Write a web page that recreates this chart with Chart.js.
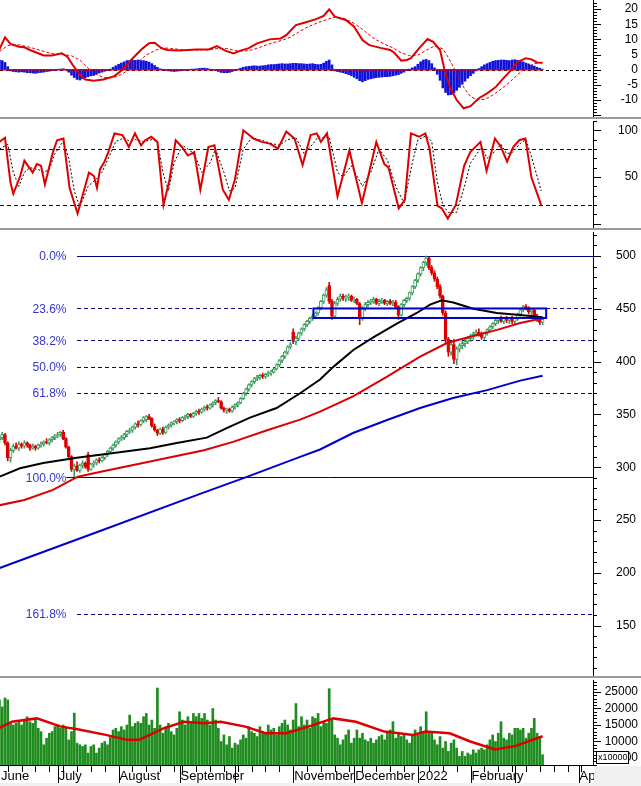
<!DOCTYPE html>
<html>
<head>
<meta charset="utf-8">
<script src="https://cdn.jsdelivr.net/npm/chart.js@4.4.1/dist/chart.umd.min.js"></script>
<style>
  html, body { margin: 0; padding: 0; background: #fff; }
  #wrap { position: relative; width: 641px; height: 786px; overflow: hidden; }
  canvas { position: absolute; left: 0; }
  .sep { position: absolute; left: 0; width: 641px; height: 4px; background: #fff;
         border-top: 2px solid #9a9a9a; box-sizing: border-box; }
</style>
</head>
<body>
<div id="wrap">
  <canvas id="macd" width="641" height="117" style="top:0"></canvas>
  <div class="sep" style="top:117px"></div>
  <canvas id="stoch" width="641" height="107" style="top:121px"></canvas>
  <div class="sep" style="top:228px"></div>
  <canvas id="price" width="641" height="444" style="top:232px"></canvas>
  <div class="sep" style="top:676px"></div>
  <canvas id="volume" width="641" height="106" style="top:680px"></canvas>
</div>
<script>
// ---- data (x = trading-day index, 0 = 1 July 2021) ----
const FIRST_DAY = -21;
const X_MIN = -20.8, X_MAX = 193.2;

const monthStarts = [-22, 0, 22, 44, 64, 85, 107, 130, 149, 165, 188];
const monthNames = ['June', 'July', 'August', 'September', '', 'November', 'December', '2022', 'February', '', 'April'];
const weekStarts = [-18, -13, -8, -3, 2, 7, 12, 17, 27, 32, 37, 42, 45, 50, 55, 60, 65, 70, 75, 80,
  90, 95, 100, 105, 110, 115, 120, 125, 134, 139, 144, 154, 159, 164, 169, 174, 179, 184, 189];

// daily candles [open, high, low, close]
const candles = [
  [326,331,323,328],[328,333,326,331],[331,332,321,323],[323,324,306,309],[309,318,305,316],[316,322,314,320],[320,323,317,318],[318,324,316,322],[322,323,318,320],[320,325,318,323],
  [323,324,319,321],[321,322,316,318],[318,322,317,320],[320,321,316,318],[318,322,317,321],[321,324,319,322],[322,325,320,324],[324,327,322,323],[323,327,321,326],[326,329,324,328],
  [328,331,326,330],[330,333,328,331],[331,334,329,333],[333,335,326,327],[327,328,318,319],[319,320,308,310],[310,311,296,298],[298,303,291,301],[301,305,296,297],[297,303,295,302],
  [302,306,299,304],[304,305,299,300],[312,314,296,298],[298,304,297,303],[303,306,300,304],[304,308,302,307],[307,309,304,306],[306,310,305,309],[309,313,307,312],[312,316,310,315],
  [315,319,313,318],[318,322,316,321],[321,325,319,324],[324,328,322,327],[327,330,325,328],[328,332,326,331],[331,335,329,334],[334,337,332,335],[335,339,333,338],[338,342,336,341],
  [341,344,338,340],[340,345,339,344],[344,348,342,347],[345,349,343,348],[348,350,345,346],[346,347,338,339],[339,341,334,335],[335,336,330,332],[332,337,331,336],[336,338,331,333],
  [333,339,332,338],[338,341,336,340],[340,343,338,342],[342,344,340,343],[343,346,341,345],[345,347,342,344],[344,348,343,347],[347,349,345,348],[348,351,346,350],[350,351,347,348],
  [348,352,347,351],[351,354,349,353],[353,355,350,352],[352,356,351,355],[355,358,353,357],[357,359,354,356],[356,360,355,359],[359,362,357,361],[361,364,359,363],[363,366,361,362],
  [362,363,355,356],[356,357,352,354],[354,356,351,355],[355,356,352,353],[353,358,352,357],[357,360,355,359],[359,362,357,361],[361,366,360,365],[365,371,364,370],[370,375,368,374],
  [374,379,372,378],[378,382,376,381],[381,385,379,384],[384,387,382,385],[385,388,383,387],[387,389,384,386],[386,389,384,388],[388,391,386,389],[389,392,387,390],[390,394,389,393],
  [393,398,392,397],[397,402,395,401],[401,406,399,405],[405,410,403,409],[409,415,407,414],[414,418,412,416],[428,431,417,419],[419,424,416,422],[422,428,420,427],[427,432,425,431],
  [431,436,429,435],[435,439,433,438],[438,442,436,441],[441,445,439,443],[443,447,441,446],[446,452,444,451],[451,458,449,457],[457,464,455,463],[463,470,461,468],[472,475,455,457],
  [457,459,440,443],[443,457,442,455],[455,461,453,459],[459,464,457,462],[462,464,458,460],[460,463,457,461],[461,464,458,462],[462,463,457,458],[458,461,456,459],[459,460,454,455],
  [455,456,435,441],[441,452,439,450],[450,456,448,454],[454,458,452,456],[456,459,454,457],[457,461,455,459],[459,460,454,455],[455,459,453,457],[457,460,455,458],[458,459,454,455],
  [455,458,453,457],[457,459,454,455],[455,458,453,456],[456,458,450,452],[452,453,440,444],[444,455,443,454],[454,459,452,458],[458,461,456,460],[460,466,458,465],[465,472,463,471],
  [471,478,469,477],[477,484,475,483],[483,490,481,489],[489,495,486,494],[494,500,491,498],[498,499,487,489],[489,491,482,484],[484,486,476,478],[478,480,469,471],[471,473,460,462],
  [462,463,444,446],[446,448,418,421],[421,423,405,409],[409,418,406,416],[416,421,398,402],[402,414,397,412],[412,417,409,415],[415,419,412,417],[417,421,414,419],[419,424,417,422],
  [422,426,419,424],[424,428,421,426],[426,430,424,428],[428,431,424,425],[425,428,421,423],[423,428,421,427],[427,431,425,430],[430,434,428,433],[433,437,431,436],[436,440,434,439],
  [439,442,436,441],[441,443,437,438],[438,442,436,441],[441,443,437,439],[439,442,436,441],[441,443,436,438],[438,442,436,441],[441,446,439,445],[445,450,443,449],[449,453,447,452],
  [452,454,449,451],[451,452,445,447],[447,450,444,449],[449,450,441,443],[443,445,438,440],[440,442,435,437],[437,441,435,440]
];

// moving averages on price [day, value]
const maBlack = [[-21,291],[-13.6,299],[-5.2,304],[6.9,309],[18.9,313],[33.3,318],[43,323],[53.8,328],[61,337],[69.4,347],[79,356],[87.5,370],[94.7,383],
  [99.5,395],[106.7,411],[113.9,423],[122.4,436],[129.6,446],[134.4,454],[138.6,458],[142.8,456],[150,450],[158.5,446],[166.9,444],[175,442]];
const maRed = [[-21,264],[-12,269],[-1.7,278.5],[7.3,291],[16,296],[30.8,304],[52.8,316],[63.3,324],[75.6,335],[87.5,345],[94.7,352.6],
  [106.6,367],[118.9,385.7],[130.8,404.6],[140.5,417.6],[148.9,423.6],[158.6,430],[166.9,436.5],[175,441]];
const maBlue = [[-21,204.5],[15.3,239.6],[51.4,274.7],[68.3,290.8],[87.5,309.8],[94.7,316.8],[106.6,332.4],[118.9,344.7],
  [130.8,356],[142.7,365.5],[155,373],[166.9,382],[175,386.6]];

// Fibonacci retracement
const fibHigh = 500, fibLow = 290.5;
const fibLevels = [0, 23.6, 38.2, 50, 61.8, 100, 161.8];
const fibStart = [7, 7, 7, 7, 7, 3.1, 7];
const fibLabelAt = 3.2;
const zoneBox = { from: 92.3, to: 176.3, low: 441.3, high: 450.3 };

// volume
const volume = [
  22600,20500,23200,22600,15500,15000,15500,16000,15000,16500,
  17500,16000,15500,17000,14000,13000,9000,11000,12500,13000,
  14500,15000,14000,15000,14500,10500,13000,18600,9500,9000,
  8500,9000,6500,8500,9000,6500,8000,9500,10000,9000,
  11500,13500,14000,13000,14500,13500,15000,18000,14500,15500,
  16000,15500,17500,18500,15000,16500,14000,26200,15000,12500,
  14500,15500,13000,12000,14000,19000,16500,15000,17500,16000,
  18500,17500,18500,17000,18500,16500,15000,20000,16500,14000,
  10000,12000,9000,11500,8000,9500,9000,10500,12000,11000,
  14500,13000,12500,11500,14500,13000,12500,15000,13500,14000,
  12000,14500,15500,16500,15000,13500,16500,21500,14500,17500,
  15000,16500,14000,17500,17000,18500,14500,16000,15500,26000,
  17000,12000,11000,9000,10500,12000,13500,9500,11000,13500,
  11000,12500,10500,10000,11000,9500,10500,11500,12000,10500,
  12500,13500,16000,11000,12500,11500,12000,10500,9500,12000,
  13500,12000,14500,13000,19000,12500,13000,10500,9000,11500,
  8000,10000,7000,9500,10500,8000,5500,7000,5500,6500,
  6000,7500,6500,7500,8000,7500,9000,10500,12000,10000,
  12500,16000,11000,10500,12500,12000,14000,14000,13500,14000,
  11000,12500,14000,17000,12500,11000,6000
];
const volumeMa = [[-21,14100],[-16.5,16000],[-7.5,17000],[1.2,14500],[7.2,13700],[17.4,12000],[25,10500],[29.4,10500],[38.2,14000],
  [45.6,16000],[53,15500],[58.9,16000],[67.7,14500],[75.1,12500],[82.5,12500],[90.5,14500],[99.5,17000],[107.6,16000],[117.9,13000],
  [128.3,12000],[132.7,13000],[141.5,12500],[148.9,10000],[157.8,7600],[165.1,8600],[175,11600]];

// MACD
const macdHist = [
  3.2,3.0,2.4,1.0,-0.4,-0.6,-0.7,-0.8,-0.7,-0.8,
  -1.0,-1.0,-1.1,-1.2,-1.0,-0.9,-0.8,-0.6,-0.5,-0.3,
  -0.2,0.1,0.2,0.3,0.1,-0.8,-1.8,-2.6,-3.2,-3.4,
  -3.0,-2.6,-2.3,-2.0,-1.9,-1.5,-1.1,-0.8,-0.5,-0.3,
  0.2,0.8,1.3,1.8,2.2,2.6,3.0,3.1,3.2,3.1,
  3.2,3.0,3.0,2.8,2.5,2.0,1.4,0.8,0.3,0.1,
  -0.2,-0.4,-0.5,-0.6,-0.5,-0.4,-0.3,-0.2,0.0,0.1,
  0.2,0.3,0.4,0.5,0.5,0.4,0.2,0.0,-0.3,-0.6,
  -0.9,-1.0,-1.0,-0.9,-0.6,-0.3,0.2,0.5,0.8,1.0,
  1.1,1.2,1.3,1.2,1.2,1.3,1.4,1.6,1.7,1.7,
  1.8,1.9,2.0,1.9,1.9,2.0,2.1,2.1,2.0,2.0,
  1.9,1.8,1.9,2.0,1.8,1.7,1.8,2.2,2.8,3.2,
  1.6,-0.4,-0.6,-0.8,-1.0,-1.3,-1.6,-2.0,-2.5,-3.0,
  -3.6,-4.0,-3.6,-3.2,-3.0,-2.8,-2.6,-2.5,-2.4,-2.3,
  -2.3,-2.2,-2.0,-1.8,-1.6,-1.2,-0.8,-0.3,0.2,0.6,
  1.0,1.8,2.6,3.2,3.4,3.0,2.0,0.6,-1.5,-3.5,
  -6.0,-7.5,-8.3,-8.2,-7.6,-6.8,-5.8,-4.8,-3.8,-2.8,
  -2.0,-1.2,-0.4,0.4,1.0,1.6,2.0,2.4,2.8,3.0,
  3.1,3.2,3.2,3.1,3.0,3.2,3.3,3.1,2.8,2.6,
  2.2,1.9,1.5,1.2,0.8,0.5,0.2
];
const macdLine = [[-21,6.7],[-19,10.7],[-17,8.5],[-14,7.6],[-12,7.4],[-10,6.5],[-7.5,5.6],[-5,4.7],[-2,4.7],[1.5,5.4],[3.5,4.3],
  [5.5,1.5],[8,-1.7],[10,-3.2],[13,-3.6],[16.5,-3.2],[20.5,-2.1],[23.5,0.1],[26.5,3.2],[30,6.5],[33,8.7],[35,8.9],[37.5,7.1],
  [39.5,6.5],[44,6.3],[50,6.7],[54.5,6.7],[57.5,7.8],[60.5,6.3],[63.5,5.4],[66,6.3],[69,7.1],[72,8.7],[76.5,10.0],[80.5,10.3],
  [82.5,11.4],[86,14.7],[89,15.5],[93,16.6],[96,17.7],[98,19.9],[100,17.5],[104,16.4],[107,14.2],[110,9.8],[112.5,8.1],
  [116.5,7.2],[120,6.5],[121.5,5.6],[124,3.0],[126,3.2],[127.5,3.8],[130.5,7.1],[133.5,10.1],[135.5,9.2],[138,6.5],[139.5,0.5],
  [141.5,-5.6],[144,-10],[146.5,-12.7],[149,-12],[152,-9.4],[155,-7.8],[158,-5.8],[160.5,-3.2],[163.5,-0.3],[166,2.6],
  [169,3.8],[171,3.4],[173,2.4],[175,2.3]];
const macdSignal = [[-21,6.0],[-18,8.0],[-14,8.2],[-10,7.4],[-6,6.3],[-2,5.3],[2,5.0],[5,4.6],[8,3.2],[11,0.5],[14,-1.6],[17,-2.6],
  [20,-2.6],[23,-1.6],[26,0.2],[29,2.6],[32,4.8],[35,6.3],[38,7.2],[41,7.0],[45,6.6],[50,6.5],[55,6.6],[58,7.0],[61,7.0],[64,6.3],
  [67,6.1],[70,6.5],[73,7.4],[77,8.7],[81,9.7],[84,10.7],[87,12.4],[90,14.0],[94,15.5],[97,16.5],[100,17.3],[103,17.0],[106,15.8],
  [109,14.0],[112,11.8],[115,9.8],[118,8.4],[121,7.2],[124,5.6],[127,4.6],[130,4.8],[133,6.4],[136,7.8],[139,6.9],[141,4.0],
  [143,0.6],[145,-3.2],[147,-6.5],[149,-8.8],[151,-9.8],[154,-9.8],[157,-8.4],[160,-6.4],[163,-4.2],[166,-1.6],[169,0.6],
  [172,2.0],[175,2.4]];

// stochastic
const stochK = [[-21,87.6],[-19,92],[-17,43.8],[-16,32],[-13.5,51],[-12,67.5],[-9,54.7],[-7.5,63.8],[-6,62],[-4.6,42],[-1.7,76.6],
  [-0.2,89.4],[2.1,91.2],[4.3,38.3],[7.2,10.9],[11.3,54.7],[13.1,51],[14.2,38.3],[15.3,58.4],[16.8,65.7],[18.3,76.6],[20.5,96.7],
  [23.4,94.9],[25.7,82.1],[27.9,96.7],[30.1,83.9],[31.6,89.4],[33.8,93.1],[36,87.6],[38.2,20],[40.4,47.4],[42.6,89.4],[44.9,82.1],
  [47,73],[49.3,76.6],[51.5,36.4],[54.4,82.1],[56.6,83.9],[59.6,36.4],[61.8,25.5],[64,47.4],[67,100],[70.7,91.2],[73.6,87.6],
  [76.6,85.8],[79.5,80.3],[82.5,98.6],[85.5,91.2],[88.4,62.7],[91.3,94.9],[93.5,96.7],[95,87.6],[97.2,96.7],[101,29.1],[105.3,78.4],
  [109.8,21.9],[115,87.6],[117.9,63.8],[119.4,60.2],[123.1,16.4],[125.3,25.5],[127.5,96.7],[130.4,93.1],[132.7,96.7],[134.2,80.3],
  [137.1,18.9],[138.6,16.4],[140.8,5.4],[143.7,20],[146.7,62],[148.9,76.6],[152.6,87.6],[154.8,56.5],[157.8,91.2],[160,82.1],
  [162.2,66.4],[164.4,82.1],[166.6,89.4],[168.8,91.2],[171,49.3],[174.5,20]];
const stochD = [[-21,80],[-18,85],[-16,55],[-14,40],[-12,55],[-10,60],[-7,58],[-5,55],[-3,58],[-1,75],[2,88],[4,70],[6,35],[8,18],
  [11,40],[14,48],[16,55],[18,68],[21,88],[24,92],[26,88],[28,90],[31,88],[34,90],[36,88],[38,55],[40,35],[42,65],[45,84],[48,78],
  [50,70],[52,55],[55,65],[57,80],[60,55],[62,35],[64,38],[67,80],[70,92],[74,89],[77,86],[80,84],[83,90],[86,92],[89,75],[92,85],
  [94,93],[96,92],[98,93],[101,55],[103,50],[106,62],[110,40],[113,55],[116,80],[119,68],[122,40],[125,22],[128,65],[130,90],
  [133,94],[135,88],[137,45],[139,20],[141,12],[144,12],[147,42],[149,65],[153,82],[155,70],[158,78],[160,85],[162,75],[164,76],
  [167,86],[169,90],[171,72],[174.5,35]];
const stochLevels = [80, 20];

// axis tick labels
const macdTicks = [20, 15, 10, 5, 0, -5, -10];
const stochTicks = [100, 50];
const priceTicks = [500, 450, 400, 350, 300, 250, 200, 150];
const volumeTicks = [25000, 20000, 15000, 10000, 5000];

// ---- helpers ----
const RED = '#dd0000';
const FONT = { family: 'Liberation Sans, Arial, sans-serif', size: 12 };
const pts = arr => arr.map(p => ({ x: p[0], y: p[1] }));
const daily = arr => arr.map((v, k) => ({ x: FIRST_DAY + k, y: v }));
const lastDay = FIRST_DAY + candles.length - 1;

function xAxis() {
  return { type: 'linear', min: X_MIN, max: X_MAX, offset: false, display: false };
}
// right axis: 48px from the plot edge; labels end `gap` px before the canvas edge
function yAxis(min, max, ticks, gap) {
  return {
    type: 'linear', position: 'right', min: min, max: max,
    afterBuildTicks: s => { s.ticks = ticks.map(v => ({ value: v })); },
    afterFit: s => { s.width = 48 - gap; s.paddingTop = 0; s.paddingBottom = 0; },
    grid: { drawOnChartArea: false, drawTicks: false },
    border: { display: true, color: '#000', width: 1 },
    ticks: { color: '#000', font: FONT, padding: 10, crossAlign: 'far', autoSkip: false,
      callback: v => String(v) }
  };
}

// minor / major tick marks on the right axis
const axisMarks = {
  id: 'axisMarks',
  afterDraw(chart, args, opts) {
    const y = chart.scales.y, ctx = chart.ctx;
    ctx.save();
    ctx.strokeStyle = '#000';
    ctx.lineWidth = 1;
    const start = Math.ceil(y.min / opts.minor) * opts.minor;
    for (let v = start; v <= y.max; v += opts.minor) {
      const py = Math.round(y.getPixelForValue(v)) + 0.5;
      const r = v / opts.major;
      const major = Math.abs(r - Math.round(r)) < 1e-6;
      ctx.beginPath();
      ctx.moveTo(y.left, py);
      ctx.lineTo(y.left + (major ? 8 : 4), py);
      ctx.stroke();
    }
    ctx.restore();
  }
};

function hLine(chart, value, x0, color, dash, width) {
  const { ctx, scales: { y } } = chart;
  const py = Math.round(y.getPixelForValue(value)) + 0.5;
  ctx.save();
  ctx.strokeStyle = color;
  ctx.lineWidth = width || 1;
  ctx.setLineDash(dash || []);
  ctx.beginPath();
  ctx.moveTo(x0, py);
  ctx.lineTo(chart.chartArea.right, py);
  ctx.stroke();
  ctx.restore();
}

function baseOptions(gap) {
  return {
    responsive: false,
    animation: false,
    events: [],
    layout: { padding: { left: 0, top: 0, bottom: 0, right: gap } }
  };
}

// ---- MACD ----
new Chart(document.getElementById('macd'), {
  type: 'bar',
  data: {
    datasets: [
      { type: 'line', data: pts(macdLine), borderColor: RED, borderWidth: 2, pointRadius: 0, order: 0 },
      { type: 'line', data: pts(macdSignal), borderColor: RED, borderWidth: 1, borderDash: [3, 2], pointRadius: 0, order: 1 },
      { type: 'line', data: [{ x: FIRST_DAY, y: 0 }, { x: lastDay, y: 0 }], borderColor: RED, borderWidth: 1.5, pointRadius: 0, order: 2 },
      { data: daily(macdHist), backgroundColor: '#1010dd', barThickness: 2, order: 3 }
    ]
  },
  options: Object.assign(baseOptions(3), {
    scales: { x: xAxis(), y: yAxis(-15.58, 22.97, macdTicks, 3) },
    plugins: { legend: { display: false }, tooltip: { enabled: false }, axisMarks: { minor: 1, major: 5 } }
  }),
  plugins: [axisMarks, {
    id: 'zero',
    beforeDatasetsDraw(chart) { hLine(chart, 0, chart.chartArea.left, '#000', [3, 3]); }
  }]
});

// ---- Stochastic ----
new Chart(document.getElementById('stoch'), {
  type: 'line',
  data: {
    datasets: [
      { data: pts(stochK), borderColor: RED, borderWidth: 2, pointRadius: 0, order: 0 },
      { data: pts(stochD), borderColor: '#000', borderWidth: 1, borderDash: [2, 2], pointRadius: 0, order: 1 }
    ]
  },
  options: Object.assign(baseOptions(3), {
    scales: { x: xAxis(), y: yAxis(-4.7, 110, stochTicks, 3) },
    plugins: { legend: { display: false }, tooltip: { enabled: false }, axisMarks: { minor: 10, major: 50 } }
  }),
  plugins: [axisMarks, {
    id: 'levels',
    beforeDatasetsDraw(chart) {
      stochLevels.forEach(v => hLine(chart, v, chart.chartArea.left, '#000080', [4, 3]));
    }
  }]
});

// ---- Price ----
const upCandle = candles.map(c => c[3] >= c[0]);
const GREEN = '#3a9a5c';
new Chart(document.getElementById('price'), {
  type: 'bar',
  data: {
    datasets: [
      { type: 'line', data: pts(maBlue), borderColor: '#0000cc', borderWidth: 2, pointRadius: 0, order: 0 },
      { type: 'line', data: pts(maRed), borderColor: RED, borderWidth: 2, pointRadius: 0, order: 0 },
      { type: 'line', data: pts(maBlack), borderColor: '#000', borderWidth: 2, pointRadius: 0, order: 0 },
      { data: candles.map((c, k) => ({ x: FIRST_DAY + k, y: [c[0], c[3]] })), barThickness: 3, borderWidth: 1,
        borderSkipped: false, grouped: false, order: 1,
        backgroundColor: ctx => upCandle[ctx.dataIndex] ? '#fff' : RED,
        borderColor: ctx => upCandle[ctx.dataIndex] ? GREEN : RED },
      { data: candles.map((c, k) => ({ x: FIRST_DAY + k, y: [c[2], c[1]] })), barThickness: 1, grouped: false, order: 2,
        backgroundColor: ctx => upCandle[ctx.dataIndex] ? GREEN : RED }
    ]
  },
  options: Object.assign(baseOptions(5), {
    scales: { x: xAxis(), y: yAxis(102.3, 522.7, priceTicks, 5) },
    plugins: { legend: { display: false }, tooltip: { enabled: false }, axisMarks: { minor: 10, major: 50 } }
  }),
  plugins: [axisMarks, {
    id: 'fib',
    beforeDatasetsDraw(chart) {
      const { ctx, scales: { x, y } } = chart;
      fibLevels.forEach((pct, k) => {
        const price = fibHigh - (fibHigh - fibLow) * pct / 100;
        const solid = pct === 0 || pct === 100;
        hLine(chart, price, x.getPixelForValue(fibStart[k]), '#000080', solid ? [] : [4, 3]);
        ctx.save();
        ctx.font = '12px Liberation Sans, Arial, sans-serif';
        ctx.fillStyle = '#3535cc';
        ctx.textAlign = 'right';
        ctx.textBaseline = 'middle';
        ctx.fillText(pct.toFixed(1) + '%', x.getPixelForValue(fibLabelAt), y.getPixelForValue(price) + 1);
        ctx.restore();
      });
    },
    afterDatasetsDraw(chart) {
      const { ctx, scales: { x, y } } = chart;
      const x0 = x.getPixelForValue(zoneBox.from), x1 = x.getPixelForValue(zoneBox.to);
      const y0 = y.getPixelForValue(zoneBox.high), y1 = y.getPixelForValue(zoneBox.low);
      ctx.save();
      ctx.strokeStyle = '#0000cc';
      ctx.lineWidth = 2;
      ctx.strokeRect(x0, y0, x1 - x0, y1 - y0);
      ctx.restore();
    }
  }]
});

// ---- Volume ----
new Chart(document.getElementById('volume'), {
  type: 'bar',
  data: {
    datasets: [
      { type: 'line', data: pts(volumeMa), borderColor: RED, borderWidth: 2.5, pointRadius: 0, order: 0 },
      { data: daily(volume), backgroundColor: '#1f8c1f', barThickness: 2, order: 1 }
    ]
  },
  options: Object.assign(baseOptions(3), {
    scales: {
      x: {
        type: 'linear', min: X_MIN, max: X_MAX, offset: false, position: 'bottom',
        afterBuildTicks: s => { s.ticks = monthStarts.map(v => ({ value: Math.max(v, X_MIN) })); },
        afterFit: s => { s.height = 21; s.paddingLeft = 0; s.paddingRight = 0; },
        grid: { drawOnChartArea: false, drawTicks: false, offset: false },
        border: { display: true, color: '#000' },
        ticks: { autoSkip: false, maxRotation: 0, align: 'start', labelOffset: 1, padding: 4, color: '#000',
          font: { family: FONT.family, size: 13 }, callback: (v, k) => monthNames[k] }
      },
      y: yAxis(2879, 28634, volumeTicks, 3)
    },
    plugins: { legend: { display: false }, tooltip: { enabled: false }, axisMarks: { minor: 1000, major: 5000 } }
  }),
  plugins: [axisMarks, {
    id: 'timeMarks',
    afterDraw(chart) {
      const { ctx, scales: { x, y }, chartArea } = chart;
      ctx.save();
      ctx.strokeStyle = '#000';
      ctx.lineWidth = 1;
      monthStarts.forEach(v => {
        if (v < X_MIN) return;
        const px = Math.round(x.getPixelForValue(v)) + 0.5;
        ctx.beginPath(); ctx.moveTo(px, chartArea.bottom); ctx.lineTo(px, chart.height); ctx.stroke();
      });
      weekStarts.forEach(v => {
        const px = Math.round(x.getPixelForValue(v)) + 0.5;
        ctx.beginPath(); ctx.moveTo(px, chartArea.bottom); ctx.lineTo(px, chartArea.bottom + 7); ctx.stroke();
      });
      // corner under the price axis
      ctx.fillStyle = '#f0f0f0';
      ctx.fillRect(chartArea.right + 1, chartArea.bottom + 1, chart.width - chartArea.right, chart.height);
      ctx.fillRect(0, chart.height - 3, chart.width, 3);
      // unit box
      const by = Math.round(y.getPixelForValue(5000));
      ctx.fillStyle = '#fff';
      ctx.fillRect(596, by - 6, 32, 12);
      ctx.strokeRect(596.5, by - 6.5, 32, 12);
      ctx.fillStyle = '#000';
      ctx.font = '9px Liberation Sans, Arial, sans-serif';
      ctx.textBaseline = 'middle';
      ctx.fillText('x10000', 598, by);
      ctx.restore();
    }
  }]
});
</script>
</body>
</html>
